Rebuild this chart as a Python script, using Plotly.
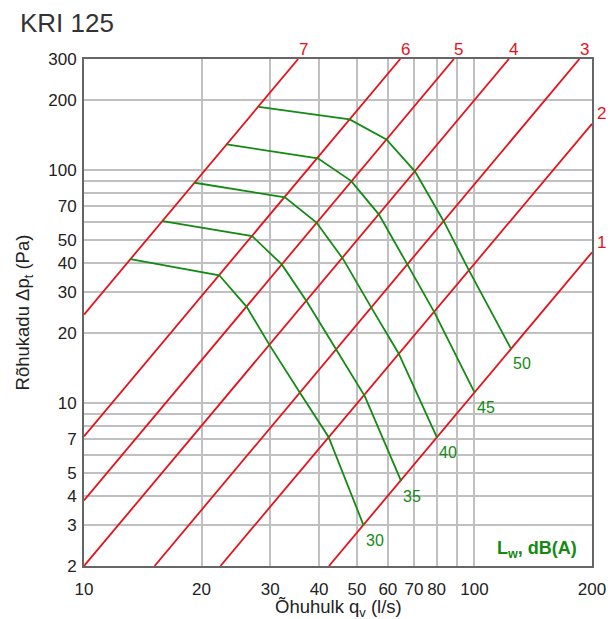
import numpy as np
import plotly.graph_objects as go

# ---- data ----
title_text = "KRI 125"
x_title = "Õhuhulk q<sub>v</sub> (l/s)"
y_title = "Rõhukadu Δp<sub>t</sub> (Pa)"

# red system lines (damper positions): endpoints (q l/s, dp Pa)
line_names = ["1", "2", "3", "4", "5", "6", "7"]
line_q = [[42.4, 200], [22.36, 200], [15.16, 185.7], [10, 122.5], [10, 88.6], [10, 64.55], [10, 35.36]]
line_p = [[2, 44.4], [2, 158], [2, 300], [2, 300], [3.82, 300], [7.2, 300], [24.0, 300]]

# green sound level curves (vertices on lines 7..1)
lw_names = ["30", "35", "40", "45", "50"]
lw_q = [
    [13.15, 22.2, 26.1, 29.9, 35.7, 42.3, 52.0],
    [15.9, 26.96, 32.1, 37.2, 44.05, 52.4, 64.9],
    [19.2, 32.7, 39.4, 46.1, 54.3, 64.0, 80.2],
    [23.2, 39.7, 48.3, 56.9, 67.2, 78.9, 100.1],
    [28.03, 47.9, 59.5, 70.4, 83.4, 96.6, 124.1],
]
lw_p = [
    [41.5, 35.4, 25.9, 17.7, 11.1, 7.16, 2.99],
    [60.4, 52.1, 39.4, 27.3, 17.2, 10.7, 4.63],
    [88.3, 76.4, 59.6, 41.5, 25.9, 16.3, 7.11],
    [129.0, 112.4, 90.0, 64.6, 39.6, 24.6, 11.1],
    [187.1, 165.2, 135.6, 98.8, 60.4, 37.4, 17.1],
]

x_tickvals = [10, 20, 30, 40, 50, 60, 70, 80, 90, 100, 200]
x_ticktext = ["10", "20", "30", "40", "50", "60", "70", "80", "", "100", "200"]
y_tickvals = [2, 3, 4, 5, 6, 7, 8, 9, 10, 20, 30, 40, 50, 60, 70, 80, 90, 100, 200, 300]
y_ticktext = ["2", "3", "4", "5", "", "7", "", "", "10", "20", "30", "40", "50", "", "70", "", "", "100", "200", "300"]

# ---- style ----
RED = "#e3131b"
GREEN = "#148a14"
FONT = "Arial, Liberation Sans, sans-serif"
W, H = 606, 611  # page body has an 8px margin

fig = go.Figure()

for name, qs, ps in zip(line_names, line_q, line_p):
    fig.add_trace(go.Scatter(x=qs, y=ps, mode="lines",
                             line=dict(color=RED, width=1.8),
                             hoverinfo="skip", showlegend=False))

for name, qs, ps in zip(lw_names, lw_q, lw_p):
    fig.add_trace(go.Scatter(x=qs, y=ps, mode="lines",
                             line=dict(color=GREEN, width=1.8),
                             hoverinfo="skip", showlegend=False))

annotations = []
# red labels
for name, qs, ps in zip(line_names, line_q, line_p):
    if ps[1] >= 300:
        annotations.append(dict(x=np.log10(qs[1]), y=np.log10(300), xref="x", yref="y",
                                text=name, showarrow=False, xanchor="center", yanchor="middle",
                                xshift=5, yshift=10, font=dict(color=RED, size=17, family=FONT)))
    else:
        annotations.append(dict(x=np.log10(qs[1]), y=np.log10(ps[1]), xref="x", yref="y",
                                text=name, showarrow=False, xanchor="left", yanchor="middle",
                                xshift=3, yshift=10, font=dict(color=RED, size=17, family=FONT)))
# green labels
for name, qs, ps in zip(lw_names, lw_q, lw_p):
    annotations.append(dict(x=np.log10(qs[-1]), y=np.log10(ps[-1]), xref="x", yref="y",
                            text=name, showarrow=False, xanchor="center", yanchor="middle",
                            xshift=11, yshift=-15, font=dict(color=GREEN, size=16, family=FONT)))

annotations.append(dict(x=1, y=0, xref="paper", yref="paper",
                        text="<b>L<sub>w</sub>, dB(A)</b>", showarrow=False,
                        xanchor="right", yanchor="middle", xshift=-13, yshift=17,
                        font=dict(color=GREEN, size=18, family=FONT)))

# x-axis title as annotation for precise placement
annotations.append(dict(x=0.5, y=0, xref="paper", yref="paper", text=x_title,
                        showarrow=False, xanchor="center", yanchor="middle", yshift=-42,
                        font=dict(size=18.5, color="#222222", family=FONT)))

fig.update_layout(
    width=W, height=H,
    margin=dict(l=76, r=22, t=51, b=53),
    paper_bgcolor="white", plot_bgcolor="white",
    font=dict(family=FONT, color="#222222", size=15),
    title=dict(text=title_text, x=12 / W, xanchor="left", xref="container",
               y=1 - 15 / H, yanchor="middle",
               font=dict(size=26, color="#333333", family=FONT)),
    annotations=annotations,
    showlegend=False,
)

fig.update_xaxes(type="log", range=[np.log10(10), np.log10(200)], automargin=False,
                 tickvals=x_tickvals, ticktext=x_ticktext,
                 showgrid=True, gridcolor="#c0c0c0", gridwidth=1.5,
                 showline=True, linecolor="#666666", linewidth=2, mirror=True,
                 ticks="", ticklabelstandoff=7, zeroline=False,
                 tickfont=dict(size=17, color="#222222"))
fig.update_yaxes(type="log", range=[np.log10(2), np.log10(300)], automargin=False,
                 tickvals=y_tickvals, ticktext=y_ticktext,
                 showgrid=True, gridcolor="#c0c0c0", gridwidth=1.5,
                 showline=True, linecolor="#666666", linewidth=2, mirror=True,
                 ticks="", ticklabelstandoff=2, zeroline=False,
                 tickfont=dict(size=17, color="#222222"),
                 title=dict(text=y_title, font=dict(size=18.5, color="#222222"), standoff=14))

fig.write_html("out.html")
